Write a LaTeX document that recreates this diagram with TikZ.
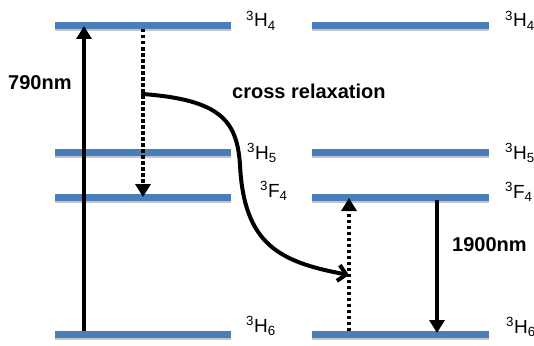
\documentclass[tikz,border=0pt]{standalone}
\usepackage{fontspec}
\setmainfont{Liberation Sans}
\usetikzlibrary{arrows.meta}
\usetikzlibrary{positioning}
\definecolor{lvlblue}{RGB}{74,126,187}
\definecolor{lvlshadow}{RGB}{195,195,200}
\tikzset{
  levelbar/.style={line width=7pt,color=lvlblue},
  termlbl/.style={anchor=base west,inner sep=0pt,font=\fontsize{19}{21}\selectfont},
  boldlbl/.style={anchor=base west,inner sep=0pt,font=\fontsize{20}{22}\selectfont\bfseries},
  solidarrow/.style={line width=4pt,-{Triangle[length=13pt,width=15pt]}},
  dotarrow/.style={line width=4pt,dash pattern=on 3.5pt off 2.5pt,-{Triangle[length=13pt,width=15pt]}}
}
\newcommand{\term}[2]{\textsuperscript{3}#1\textsubscript{#2}}
\begin{document}
\begin{tikzpicture}[line cap=butt,line join=round,x=1pt,y=-1pt]
\useasboundingbox (0,0) rectangle (534,345);
% energy levels, left and right ion
\foreach \n/\y in {H4/26,H5/152,F4/197,H6/334}
{
\fill[lvlshadow] (55,\y+3.5) rectangle (231,\y+5.5);
\fill[lvlshadow] (312,\y+3.5) rectangle (489,\y+5.5);
\draw[levelbar] (55,\y) -- (231,\y);
\draw[levelbar] (312,\y) -- (489,\y);
}
% term labels
\node[termlbl] (lH4) at (246,27) {\term{H}{4}};
\node[termlbl] (lH5) at (247,159) {\term{H}{5}};
\node[termlbl] (lF4) at (260,197) {\term{F}{4}};
\node[termlbl] (lH6) at (246,332) {\term{H}{6}};
\node[termlbl] (rH4) at (505,27) {\term{H}{4}};
\node[termlbl] (rH5) at (505,159) {\term{H}{5}};
\node[termlbl] (rF4) at (505,198) {\term{F}{4}};
\node[termlbl] (rH6) at (506,333) {\term{H}{6}};
% transitions
\coordinate (pumpS) at (84,331);
\coordinate (pumpE) at (84,26);
\coordinate (relaxS) at (143,29);
\coordinate (relaxE) at (143,197);
\coordinate (crossS) at (143,94);
\coordinate (crossE) at (349,275);
\coordinate (upS) at (349,331);
\coordinate (upE) at (349,198);
\coordinate (emitS) at (437,200);
\coordinate (emitE) at (437,333);
\draw[solidarrow] (pumpS) -- (pumpE);
\draw[dotarrow] (relaxS) -- (relaxE);
\draw[dotarrow] (upS) -- (upE);
\draw[solidarrow] (emitS) -- (emitE);
\draw[line width=4pt,line cap=round,-{Straight Barb[length=8pt,width=16pt,line width=4pt]}] (crossS) .. controls (220,100) and (237,120) .. (240,165) .. controls (244,245) and (280,262) .. (crossE);
\node[boldlbl] (pumplbl) at (8,89) {790nm};
\node[boldlbl] (crosslbl) at (232,98) {cross relaxation};
\node[boldlbl] (emitlbl) at (452,251) {1900nm};
\end{tikzpicture}
\end{document}
